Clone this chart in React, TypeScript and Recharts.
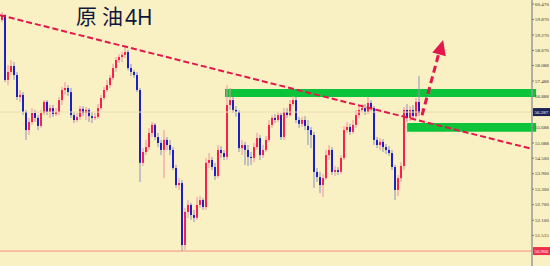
import {
  ComposedChart,
  Bar,
  XAxis,
  YAxis,
  ReferenceLine,
  ReferenceArea,
  ReferenceDot,
} from "recharts";

// OHLC for crude oil, 4H candles left to right
const opens = [
  59.85, 60.04, 57.53, 57.84, 58.07, 57.72, 56.87, 56.95, 56.29, 55.59,
  55.9, 56.25, 56.06, 55.75, 56.25, 56.68, 56.29, 56.44, 56.21, 56.29,
  56.75, 57.14, 57.22, 57.06, 56.17, 55.98, 56.1, 56.41, 56.25, 56.37,
  56.13, 56.06, 56.1, 56.44, 56.83, 57.14, 57.33, 57.61, 57.99, 58.3,
  58.42, 58.5, 58.61, 57.99, 57.84, 57.72, 57.14, 54.32, 54.74, 54.93,
  55.48, 55.79, 55.32, 55.09, 54.82, 55.21, 55.01, 54.82, 54.12, 53.46,
  53.54, 51.14, 52.42, 52.69, 52.3, 52.19, 52.69, 52.88, 52.61, 54.32,
  54.43, 54.16, 53.81, 54.82, 54.7, 54.55, 56.56, 56.75, 56.37, 56.29,
  54.89, 55.01, 54.82, 54.55, 54.51, 54.93, 55.28, 54.62, 54.82, 55.21,
  55.79, 56.06, 55.98, 56.17, 55.32, 56.29, 56.17, 56.6, 56.75, 55.98,
  55.83, 55.98, 55.75, 55.59, 55.4, 53.97, 53.77, 53.46, 53.73, 54.62,
  54.82, 53.97, 54.04, 53.97, 54.51, 55.59, 55.71, 55.52, 55.79, 56.17,
  56.37, 56.44, 56.29, 56.64, 56.44, 55.21, 55.01, 55.13, 54.93, 54.82,
  54.7, 54.16, 53.27, 53.73, 54.2, 56.37, 56.06, 56.37, 56.13, 56.68, 56.21,
];
const highs = [
  60.16, 60.08, 58.11, 58.3, 58.22, 57.84, 57.14, 57.06, 56.37, 56.06,
  56.44, 56.37, 56.17, 56.37, 56.75, 56.75, 56.56, 56.56, 56.44, 56.87,
  57.26, 57.45, 57.33, 57.22, 56.29, 56.25, 56.52, 56.52, 56.48, 56.44,
  56.29, 56.25, 56.6, 56.95, 57.26, 57.53, 57.72, 58.15, 58.42, 58.53,
  58.61, 58.81, 58.69, 58.15, 57.91, 57.84, 57.22, 54.89, 55.21, 55.67,
  55.9, 55.86, 55.48, 55.21, 55.59, 55.32, 55.21, 54.93, 54.24, 53.73,
  53.66, 52.57, 52.88, 52.77, 52.5, 53.0, 53.04, 52.96, 54.51, 54.7,
  54.55, 54.32, 55.01, 54.97, 54.82, 57.33, 57.22, 56.87, 56.52, 56.37,
  55.21, 55.13, 55.01, 54.74, 55.09, 55.48, 55.4, 55.01, 55.36, 55.98,
  56.17, 56.21, 56.29, 56.25, 56.44, 56.44, 56.75, 56.91, 56.87, 56.1,
  56.1, 56.13, 55.98, 55.71, 55.52, 54.12, 53.97, 53.89, 54.82, 55.01,
  54.93, 54.2, 54.16, 54.62, 55.75, 55.9, 55.83, 55.98, 56.37, 56.56,
  56.6, 56.6, 56.87, 56.75, 56.52, 55.32, 55.28, 55.24, 55.05, 54.97,
  54.82, 54.24, 53.85, 54.35, 56.48, 56.6, 56.52, 56.56, 56.83, 57.68, 56.44,
];
const lows = [
  59.77, 57.45, 57.33, 57.72, 57.53, 56.75, 56.68, 56.17, 55.21, 55.4,
  55.79, 55.9, 55.59, 55.67, 56.17, 56.17, 56.06, 56.1, 56.13, 56.17,
  56.56, 56.95, 56.91, 56.06, 55.86, 55.9, 55.98, 56.13, 55.98, 55.9,
  55.86, 55.98, 56.02, 56.37, 56.75, 57.06, 57.22, 57.53, 57.84, 58.19,
  58.22, 58.38, 57.91, 57.68, 57.61, 57.06, 53.58, 54.2, 54.62, 54.82,
  55.32, 55.21, 54.93, 54.62, 53.73, 54.82, 54.62, 54.04, 53.35, 53.27,
  50.91, 50.95, 52.19, 52.11, 52.03, 52.11, 52.57, 52.5, 52.5, 54.12,
  54.04, 53.66, 53.73, 54.51, 54.43, 54.43, 56.37, 56.25, 56.1, 54.74,
  54.62, 54.24, 54.2, 54.24, 54.35, 54.82, 54.43, 54.51, 54.74, 55.13,
  55.67, 55.86, 55.9, 55.21, 55.21, 56.06, 56.1, 56.52, 55.86, 55.67,
  55.71, 55.59, 55.01, 54.89, 53.35, 53.58, 53.15, 53.0, 53.66, 54.43,
  53.85, 53.81, 53.85, 53.89, 54.43, 55.48, 55.4, 55.44, 55.67, 56.06,
  56.25, 56.17, 56.21, 56.33, 55.01, 54.89, 54.82, 54.74, 54.66, 54.59,
  54.04, 52.88, 53.04, 53.58, 54.04, 55.9, 55.94, 56.02, 56.06, 56.13, 56.13,
];
const closes = [
  60.04, 57.53, 57.84, 58.07, 57.72, 56.87, 56.95, 56.29, 55.59, 55.9,
  56.25, 56.06, 55.75, 56.25, 56.68, 56.29, 56.44, 56.21, 56.29, 56.75,
  57.14, 57.22, 57.06, 56.17, 55.98, 56.1, 56.41, 56.25, 56.37, 56.13,
  56.06, 56.1, 56.44, 56.83, 57.14, 57.33, 57.61, 57.99, 58.3, 58.42,
  58.5, 58.61, 57.99, 57.84, 57.72, 57.14, 54.32, 54.74, 54.93, 55.48,
  55.79, 55.32, 55.09, 54.82, 55.21, 55.01, 54.82, 54.12, 53.46, 53.54,
  51.14, 52.42, 52.69, 52.3, 52.19, 52.69, 52.88, 52.61, 54.32, 54.43,
  54.16, 53.81, 54.82, 54.7, 54.55, 56.56, 56.75, 56.37, 56.29, 54.89,
  55.01, 54.82, 54.55, 54.51, 54.93, 55.28, 54.62, 54.82, 55.21, 55.79,
  56.06, 55.98, 56.17, 55.32, 56.29, 56.17, 56.6, 56.75, 55.98, 55.83,
  55.98, 55.75, 55.59, 55.4, 53.97, 53.77, 53.46, 53.73, 54.62, 54.82,
  53.97, 54.04, 53.97, 54.51, 55.59, 55.71, 55.52, 55.79, 56.17, 56.37,
  56.44, 56.29, 56.64, 56.44, 55.21, 55.01, 55.13, 54.93, 54.82, 54.7,
  54.16, 53.27, 53.73, 54.2, 56.37, 56.06, 56.37, 56.13, 56.68, 56.25, 56.29,
];

const priceTicks = [
  51.515, 52.1, 52.7, 53.3, 53.9, 54.5, 55.088, 55.688, 56.888, 57.488,
  58.088, 58.67, 59.27, 59.87, 60.47,
];
const LAST_PRICE = 56.287;
const LOW_PRICE = 50.906;

// annotations, in candle index / price units
const resistance = { x1: 74.5, x2: 178.2, y1: 56.87, y2: 57.18 };
const support = { x1: 135.2, x2: 178.2, y1: 55.52, y2: 55.86 };
const trendline = [
  { x: -0.5, y: 60.04 },
  { x: 176.83, y: 54.86 },
];
const breakout = [
  { x: 140.2, y: 56.17 },
  { x: 145.8, y: 58.57 },
];
const arrowTip = { x: 147.2, y: 59.08 };

const BG = "#f9f1c3";
const UP = "#f7214f";
const DOWN = "#1d20c4";
const WICK_UP = "#f48ea0";
const WICK_DOWN = "#8d91bd";
const RED = "#e3174c";
const GREEN = "#0cc43a";
const AXIS_FONT = "'Liberation Serif', serif";

const data = closes.map((close, i) => ({
  i,
  open: opens[i],
  high: highs[i],
  low: lows[i],
  close,
}));

function Candle(props: any) {
  const { x, y, width, height, payload } = props;
  if (!payload || height == null) return null;
  const { open, close, high, low } = payload;
  const top = height < 0 ? y + height : y;
  const h = Math.abs(height);
  const span = high - low || 1;
  const yOf = (v: number) => top + ((high - v) / span) * h;
  const up = close >= open;
  const bTop = yOf(Math.max(open, close));
  const bBot = yOf(Math.min(open, close));
  const cx = x + width / 2;
  return (
    <g>
      <line
        x1={cx}
        x2={cx}
        y1={top}
        y2={top + h}
        stroke={up ? WICK_UP : WICK_DOWN}
        strokeWidth={1}
      />
      <rect
        x={x}
        y={bTop}
        width={width}
        height={Math.max(1, bBot - bTop)}
        fill={up ? UP : DOWN}
      />
    </g>
  );
}

function PriceTag(props: any) {
  const { viewBox, text, fill } = props;
  if (!viewBox) return null;
  const x = viewBox.x + viewBox.width;
  const y = viewBox.y;
  return (
    <g>
      <rect x={x + 1} y={y - 4} width={17} height={8} fill={fill} />
      <text
        x={x + 2.5}
        y={y + 1.8}
        fontSize={5}
        fill="#ffffff"
        fontFamily={AXIS_FONT}
      >
        {text}
      </text>
    </g>
  );
}

function ArrowHead(props: any) {
  const { cx, cy } = props;
  if (cx == null || cy == null) return null;
  // direction of the breakout arrow (up and slightly right)
  const ux = 0.27;
  const uy = -0.96;
  const len = 15;
  const half = 7;
  const bx = cx - ux * len;
  const by = cy - uy * len;
  const nx = -uy;
  const ny = ux;
  const pts = [
    `${cx},${cy}`,
    `${bx + nx * half},${by + ny * half}`,
    `${bx - nx * half},${by - ny * half}`,
  ].join(" ");
  return <polygon points={pts} fill={RED} />;
}

const titleStyle = {
  position: "absolute" as const,
  top: 5,
  fontSize: 21,
  lineHeight: 1,
  color: "#11163c",
  whiteSpace: "nowrap" as const,
};

export default function App() {
  return (
    <div
      style={{
        position: "absolute",
        left: 0,
        top: 0,
        width: 550,
        height: 266,
        background: BG,
        overflow: "hidden",
      }}
    >
      <ComposedChart
        width={550}
        height={266}
        data={data}
        margin={{ top: 0, right: 0, bottom: 0, left: 0 }}
      >
        <XAxis
          dataKey="i"
          type="number"
          domain={[-0.5, 176.83]}
          hide
          allowDataOverflow
        />
        <YAxis
          orientation="right"
          width={18}
          domain={[50.327, 60.625]}
          ticks={priceTicks}
          tickFormatter={(v: number) => v.toFixed(3)}
          tick={{ fontSize: 5, fill: "#333", fontFamily: AXIS_FONT }}
          tickSize={2}
          tickMargin={1}
          tickLine={{ stroke: "#777" }}
          axisLine={{ stroke: "#999", strokeWidth: 1.5 }}
          allowDataOverflow
        />
        <ReferenceLine
          y={LAST_PRICE}
          stroke="#ebdeb3"
          label={<PriceTag text={LAST_PRICE.toFixed(3)} fill="#1b2257" />}
        />
        <ReferenceLine
          y={LOW_PRICE}
          stroke="#f2907f"
          label={<PriceTag text={LOW_PRICE.toFixed(3)} fill="#f0304a" />}
        />
        <Bar
          dataKey={(d: any) => [d.low, d.high]}
          barSize={2}
          shape={<Candle />}
          isAnimationActive={false}
        />
        <ReferenceArea
          {...resistance}
          fill={GREEN}
          fillOpacity={1}
          stroke="none"
          ifOverflow="visible"
        />
        <ReferenceArea
          {...support}
          fill={GREEN}
          fillOpacity={1}
          stroke="none"
          ifOverflow="visible"
        />
        <ReferenceLine
          segment={trendline}
          stroke={RED}
          strokeWidth={2}
          strokeDasharray="6 3"
          ifOverflow="visible"
        />
        <ReferenceLine
          segment={breakout}
          stroke={RED}
          strokeWidth={3}
          strokeDasharray="7 4"
          ifOverflow="visible"
        />
        <ReferenceDot
          x={arrowTip.x}
          y={arrowTip.y}
          shape={<ArrowHead />}
          ifOverflow="visible"
        />
      </ComposedChart>
      <span
        style={{
          ...titleStyle,
          left: 76,
          fontFamily: "'Noto Sans CJK SC', sans-serif",
        }}
      >
        原
      </span>
      <span
        style={{
          ...titleStyle,
          left: 102,
          fontFamily: "'Noto Sans CJK SC', sans-serif",
        }}
      >
        油
      </span>
      <span
        style={{
          ...titleStyle,
          left: 125,
          top: 7,
          fontFamily: "'Noto Sans', sans-serif",
        }}
      >
        4H
      </span>
    </div>
  );
}
